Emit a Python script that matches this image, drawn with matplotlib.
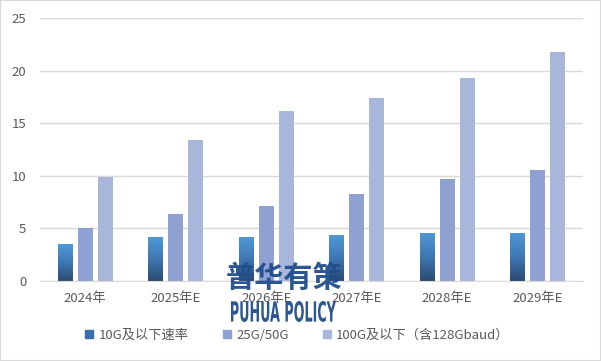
import numpy as np
import matplotlib.pyplot as plt
from matplotlib.colors import LinearSegmentedColormap
from matplotlib.patches import Patch, Rectangle, PathPatch
from matplotlib.textpath import TextPath
from matplotlib.font_manager import FontProperties
from matplotlib.transforms import Affine2D, IdentityTransform

plt.rcParams['font.family'] = ['Noto Sans CJK SC', 'DejaVu Sans']

years = ['2024年', '2025年E', '2026年E', '2027年E', '2028年E', '2029年E']
s10g = [3.5, 4.2, 4.2, 4.4, 4.6, 4.6]
s25g = [5.0, 6.4, 7.1, 8.3, 9.7, 10.6]
s100g = [9.9, 13.4, 16.2, 17.4, 19.3, 21.8]
names = ['10G及以下速率', '25G/50G', '100G及以下（含128Gbaud）']

fig = plt.figure(figsize=(6.01, 3.61), dpi=100)
ax = fig.add_axes([0.0666, 0.2216, 0.9034, 0.7284])

x = np.arange(len(years))
w = 0.165
step = 0.222

grad = LinearSegmentedColormap.from_list('g', ['#2c4a72', '#3f78b4', '#4f9ad8'])
img = np.linspace(0, 1, 256).reshape(-1, 1)
bars = ax.bar(x - step, s10g, w, color='none', zorder=2)
for b in bars:
    im = ax.imshow(img, cmap=grad, aspect='auto', origin='lower',
                   extent=[b.get_x(), b.get_x() + w, 0, b.get_height()], zorder=2)
    im.set_clip_path(b)
ax.bar(x, s25g, w, color='#8ea1d2', zorder=2)
ax.bar(x + step, s100g, w, color='#a9b6db', zorder=2)

ax.set_xlim(-0.5, len(years) - 0.5)
ax.set_ylim(0, 25)
ax.set_yticks(range(0, 26, 5))
ax.set_xticks(x)
ax.set_xticklabels(years)
ax.grid(axis='y', color='#d9d9d9', lw=1, zorder=0)
ax.set_axisbelow(True)
for sp in ['top', 'right', 'left']:
    ax.spines[sp].set_visible(False)
ax.spines['bottom'].set_color('#d9d9d9')
ax.tick_params(axis='both', length=0, labelsize=9.5, colors='#595959')
ax.tick_params(axis='y', pad=10)
ax.tick_params(axis='x', pad=8)

handles = [Patch(color='#3a6ea8'), Patch(color='#8ea1d2'), Patch(color='#a9b6db')]
fig.legend(handles, names, loc='center', bbox_to_anchor=(0.495, 0.072), ncol=3,
           frameon=False, fontsize=9.5, handlelength=0.6, handleheight=0.6,
           handletextpad=0.4, columnspacing=2.6, labelcolor='#595959')

# watermark
fig.text(0.472, 0.23, '普华有策', fontsize=21, fontweight='bold', color='#1f4e8c',
         ha='center', va='center', alpha=0.95)
tp = TextPath((0, 0), 'PUHUA POLICY', size=1,
              prop=FontProperties(family='DejaVu Sans', weight='bold', stretch='condensed'))
ext = tp.get_extents()
tr = Affine2D().translate(-ext.x0, -ext.y0).scale(105 / ext.width, 21 / ext.height) \
    .translate(231, 361 - 322)
fig.patches.append(PathPatch(tp, transform=tr + IdentityTransform(), color='#1f4e8c',
                             lw=0, alpha=0.95))

fig.patches.append(Rectangle((0, 0), 1, 1, transform=fig.transFigure, fill=False,
                             edgecolor='#d9d9d9', lw=1.5))

fig.savefig('out.png', dpi=100)
